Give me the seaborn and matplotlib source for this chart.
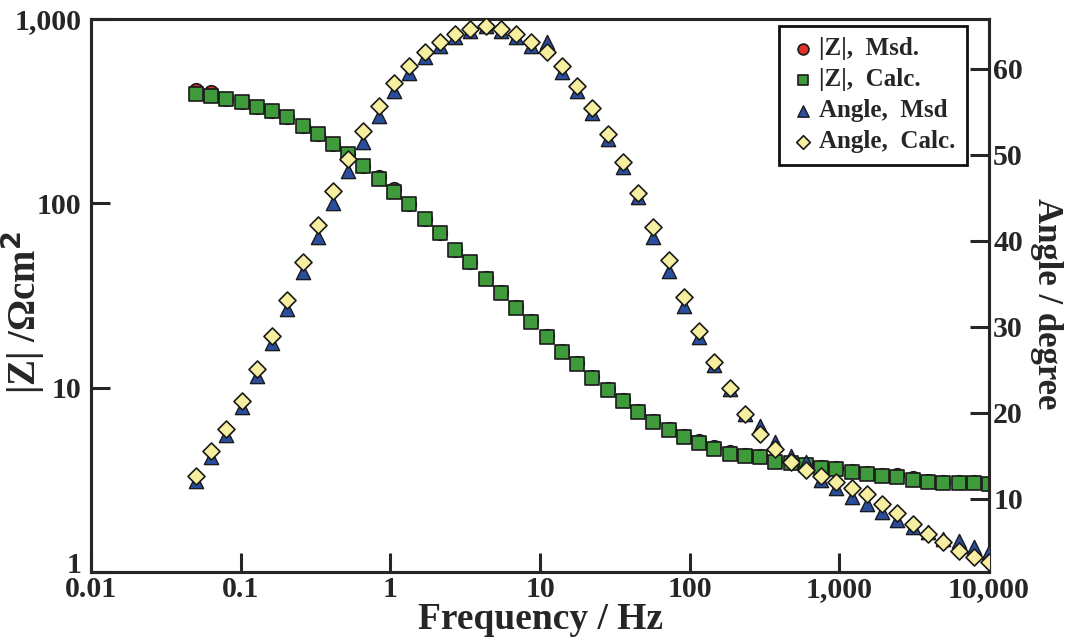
import numpy as np
import pandas as pd
import matplotlib
matplotlib.use("Agg")
import matplotlib.pyplot as plt
import matplotlib.transforms as mtransforms
import seaborn as sns
from matplotlib.ticker import FixedLocator, FixedFormatter, NullLocator

# ---------------- data ----------------
freq_hz = [0.0500, 0.0632, 0.0800, 0.1012, 0.1279, 0.1618, 0.2046, 0.2588, 0.3269, 0.4130,
           0.5224, 0.6607, 0.8356, 1.057, 1.337, 1.690, 2.138, 2.704, 3.420, 4.325,
           5.470, 6.918, 8.73, 11.04, 13.96, 17.66, 22.34, 28.25, 35.73, 45.19,
           57.15, 72.28, 91.4, 115.6, 146.2, 184.9, 233.9, 295.8, 374.1, 473.2,
           598.4, 755.0, 955.0, 1208.0, 1528.0, 1932.0, 2443.0, 3090.0, 3908.0, 4943.0,
           6252.0, 7907.0, 10000.0]

z_calc = [391, 382, 367, 354, 332, 316, 293, 262, 237, 209,
          185, 159, 135, 115, 98.8, 81.9, 68.7, 55.5, 47.8, 39.1,
          32.8, 27.2, 22.8, 18.9, 15.7, 13.5, 11.3, 9.75, 8.50, 7.41,
          6.53, 5.91, 5.42, 5.02, 4.66, 4.38, 4.27, 4.22, 3.96, 3.91,
          3.81, 3.67, 3.63, 3.50, 3.41, 3.32, 3.28, 3.16, 3.08, 3.05,
          3.05, 3.05, 3.01]

z_msd = [410, 400, 370, 356, 334, 318, 295, 264, 239, 211,
         186, 160, 139, 119, 99.5, 82.3, 69.0, 55.8, 48.0, 39.3,
         33.0, 27.3, 22.9, 19.0, 15.8, 13.6, 11.4, 9.80, 8.55, 7.45,
         6.58, 5.96, 5.50, 5.12, 4.78, 4.48, 4.33, 4.26, 3.99, 3.93,
         3.83, 3.69, 3.65, 3.52, 3.44, 3.38, 3.34, 3.22, 3.12, 3.07,
         3.06, 3.06, 3.02]

angle_calc = [12.67, 15.58, 18.14, 21.40, 25.12, 28.95, 33.14, 37.56, 41.86, 45.81,
              49.53, 52.79, 55.70, 58.37, 60.35, 61.98, 63.14, 64.07, 64.65, 65.00,
              64.65, 64.07, 63.14, 61.98, 60.35, 58.02, 55.47, 52.44, 49.19, 45.58,
              41.63, 37.79, 33.49, 29.53, 25.93, 22.91, 19.88, 17.56, 15.81, 14.30,
              13.37, 12.67, 11.98, 11.28, 10.58, 9.42, 8.37, 7.09, 5.93, 5.00,
              3.95, 3.26, 2.67]

angle_msd = [12.09, 14.88, 17.44, 20.70, 24.30, 28.14, 32.09, 36.40, 40.47, 44.42,
             48.14, 51.51, 54.53, 57.44, 59.53, 61.40, 62.67, 63.72, 64.42, 65.00,
             64.42, 63.72, 62.67, 63.14, 59.65, 57.44, 54.88, 51.86, 48.60, 45.12,
             40.47, 36.51, 32.44, 28.84, 25.58, 22.79, 19.88, 18.49, 16.63, 15.00,
             14.30, 12.21, 11.28, 10.23, 9.42, 8.49, 7.56, 6.74, 6.16, 5.35,
             5.12, 4.42, 3.84]

x_ticks = [0.01, 0.1, 1, 10, 100, 1000, 10000]
x_tick_labels = ["0.01", "0.1", "1", "10", "100", "1,000", "10,000"]
y_ticks = [1, 10, 100, 1000]
y_tick_labels = ["1", "10", "100", "1,000"]
angle_ticks = [10, 20, 30, 40, 50, 60]
angle_tick_labels = ["10", "20", "30", "40", "50", "60"]

series_labels = ["|Z|,  Msd.", "|Z|,  Calc.", "Angle,  Msd", "Angle,  Calc."]

df = pd.DataFrame({"f": freq_hz, "z_msd": z_msd, "z_calc": z_calc,
                   "a_msd": angle_msd, "a_calc": angle_calc})

# ---------------- style ----------------
sns.set_style("ticks")
plt.rcParams["font.family"] = ["Liberation Serif", "DejaVu Serif"]
plt.rcParams["font.weight"] = "bold"
plt.rcParams["axes.linewidth"] = 2.2

fig, ax = plt.subplots(figsize=(10.72, 6.44), dpi=100)
fig.subplots_adjust(left=0.085, right=0.9226, top=0.9705, bottom=0.1118)
ax2 = ax.twinx()

ms = 95
ec = "#1a1a1a"
sns.scatterplot(data=df, x="f", y="z_msd", ax=ax, marker="o", s=ms,
                color="#e0302a", edgecolor=ec, linewidth=1.2, label=series_labels[0], zorder=3)
sns.scatterplot(data=df, x="f", y="z_calc", ax=ax, marker="s", s=ms,
                color="#3f9a3c", edgecolor=ec, linewidth=1.2, label=series_labels[1], zorder=4)
sns.scatterplot(data=df, x="f", y="a_msd", ax=ax2, marker="^", s=ms + 10,
                color="#2a4d9e", edgecolor=ec, linewidth=1.0, label=series_labels[2], zorder=3)
sns.scatterplot(data=df, x="f", y="a_calc", ax=ax2, marker="D", s=ms - 20,
                color="#f6efa0", edgecolor=ec, linewidth=1.2, label=series_labels[3], zorder=4)

ax.set_xscale("log")
ax.set_yscale("log")
ax.set_xlim(0.01, 10000)
ax.set_ylim(1, 1000)
ax2.set_ylim(1.5, 65.8)

tick_fs = 21.5
ax.xaxis.set_major_locator(FixedLocator(x_ticks))
ax.xaxis.set_major_formatter(FixedFormatter(x_tick_labels))
ax.xaxis.set_minor_locator(NullLocator())
ax.yaxis.set_major_locator(FixedLocator(y_ticks))
ax.yaxis.set_major_formatter(FixedFormatter(y_tick_labels))
ax.yaxis.set_minor_locator(NullLocator())
ax2.yaxis.set_major_locator(FixedLocator(angle_ticks))
ax2.yaxis.set_major_formatter(FixedFormatter(angle_tick_labels))

for a in (ax, ax2):
    a.tick_params(direction="in", length=14, width=2.2, labelsize=tick_fs, pad=5)
    for lab in a.get_xticklabels() + a.get_yticklabels():
        lab.set_fontweight("bold")
ax.tick_params(axis="x", pad=3)
ax.tick_params(axis="y", pad=7)
ax2.tick_params(axis="y", pad=3)

# lift the bottom "1" label slightly, as in the reference
lab1 = ax.yaxis.get_major_ticks()[0].label1
lab1.set_transform(lab1.get_transform() + mtransforms.ScaledTranslation(0, 7 / 72, fig.dpi_scale_trans))

ax.set_xlabel("Frequency / Hz", fontsize=27, fontweight="bold")
ax.xaxis.set_label_coords(0.5, -0.055)
ax.set_ylabel("|Z| /Ωcm$^{\\mathbf{2}}$", fontsize=28, fontweight="bold")
ax.yaxis.set_label_coords(-0.049, 0.47)
ax2.set_ylabel("Angle / degree", fontsize=25, fontweight="bold", rotation=270, va="bottom")
ax2.yaxis.set_label_coords(1.046, 0.485)

# legend
ax.get_legend().remove()
ax2.get_legend().remove()
h1, l1 = ax.get_legend_handles_labels()
h2, l2 = ax2.get_legend_handles_labels()
leg = ax2.legend(h1 + h2, l1 + l2, loc="upper right", bbox_to_anchor=(0.9755, 0.987),
                 prop={"family": "Liberation Serif", "weight": "bold", "size": 18},
                 frameon=True, fancybox=False, edgecolor="#111111", framealpha=1,
                 handletextpad=0.15, borderpad=0.45, labelspacing=0.32, handlelength=1.0,
                 markerscale=0.8, borderaxespad=0)
leg.get_frame().set_linewidth(2.0)

fig.savefig("out.png", dpi=100)
